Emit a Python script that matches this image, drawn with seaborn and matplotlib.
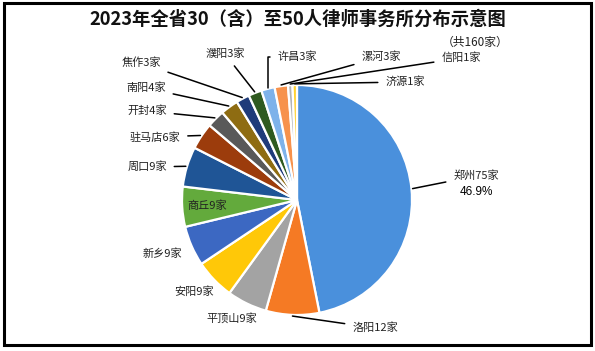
import numpy as np
import matplotlib.pyplot as plt
import matplotlib.patches as mpatches
import seaborn as sns

sns.set_theme(style='white')
plt.rcParams['font.family'] = ['Noto Sans CJK SC', 'DejaVu Sans']

# data
cities = ['郑州', '洛阳', '平顶山', '安阳', '新乡', '商丘', '周口', '驻马店',
          '开封', '南阳', '焦作', '濮阳', '许昌', '漯河', '信阳', '济源']
counts = [75, 12, 9, 9, 9, 9, 9, 6, 4, 4, 3, 3, 3, 3, 1, 1]
colors = ['#4a90dc', '#f57a24', '#a3a3a3', '#ffc808', '#3c68c2', '#63aa3c',
          '#1f5596', '#9c3c0c', '#595959', '#8e6c12', '#1f3b7a', '#2f5a20',
          '#7eb2ea', '#f7924c', '#b4b4b4', '#ffd232']
title = '2023年全省30（含）至50人律师事务所分布示意图'
subtitle = '（共160家）'

# label placement in pixels (x, y from top), and whether a leader line is drawn
label_pos = [(476, 176), (375, 328), (232, 318), (194, 292), (162, 254),
             (207, 206), (147, 167), (155, 137), (147, 111), (146, 88),
             (141, 63), (225, 54), (297, 57), (381, 57), (461, 58), (405, 82)]
has_line = [True, True, False, False, False, False, True, True,
            True, True, True, True, True, True, True, True]

W, H = 595, 351
cx, cy, R = 297, 200, 115

fig = plt.figure(figsize=(W / 100, H / 100), dpi=100)
ax = fig.add_axes([0, 0, 1, 1])
ax.set_xlim(0, W)
ax.set_ylim(0, H)
ax.set_aspect('equal')
ax.axis('off')

wedges, _ = ax.pie(counts, colors=colors, startangle=90, counterclock=False,
                   center=(cx, H - cy), radius=R,
                   wedgeprops=dict(edgecolor='white', linewidth=1.6))
ax.set_xlim(0, W)
ax.set_ylim(0, H)

fs = 8.0
total = sum(counts)
for i, (w, name, n) in enumerate(zip(wedges, cities, counts)):
    tx, ty = label_pos[i]
    txt = f'{name}{n}家'
    mid = np.deg2rad((w.theta1 + w.theta2) / 2)
    ex = cx + R * 1.01 * np.cos(mid)
    ey = H - cy + R * 1.01 * np.sin(mid)
    if has_line[i]:
        cs = 'arc3'
        if name == '许昌':
            cs = 'angle,angleA=180,angleB=90,rad=0'
        ax.annotate(txt, xy=(ex, ey), xytext=(tx, H - ty), ha='center',
                    va='center', fontsize=fs, color='#222222',
                    arrowprops=dict(arrowstyle='-', color='black', lw=1.1,
                                    shrinkA=3, shrinkB=0, connectionstyle=cs))
    else:
        ax.text(tx, H - ty, txt, ha='center', va='center', fontsize=fs,
                color='#222222')

# percent for the largest slice
ax.text(label_pos[0][0], H - label_pos[0][1] - 16,
        f'{counts[0] / total * 100:.1f}%', ha='center', va='center',
        fontsize=8.5, family=['Liberation Sans', 'DejaVu Sans'], color='black')

ax.text(W / 2, H - 19, title, ha='center', va='center', fontsize=13.2,
        fontweight='bold', color='#111111')
ax.text(475, H - 42, subtitle, ha='center', va='center', fontsize=8.5,
        color='#222222')

# frame
fig.patches.append(mpatches.Rectangle((3.5 / W, 6 / H), 587 / W, 342 / H,
                                      transform=fig.transFigure, fill=False,
                                      edgecolor='black', linewidth=2.2))

fig.savefig('out.png', dpi=100)
